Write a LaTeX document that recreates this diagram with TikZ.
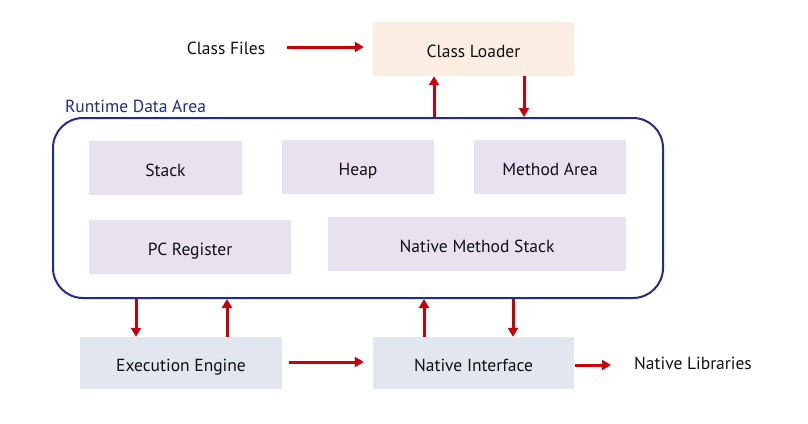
\documentclass[tikz,border=0pt]{standalone}
\usepackage{fontspec}
\setmainfont{PT Sans}
\usepackage{tikz}
\usetikzlibrary{arrows.meta}
\usetikzlibrary{positioning}

\definecolor{jvmred}{HTML}{C8000A}
\definecolor{jvmnavy}{HTML}{222C8A}
\definecolor{lavender}{HTML}{E9E1F0}
\definecolor{peach}{HTML}{FBEDE2}
\definecolor{bluegrey}{HTML}{E1E6EF}
\definecolor{txt}{HTML}{111111}

\tikzset{
	area/.style={fill=lavender, minimum height=54pt},
	flow/.style={draw=jvmred, line width=3pt, -{Triangle[length=9pt,width=10pt]}}
}

\begin{document}
\begin{tikzpicture}[x=1pt, y=-1pt, font=\fontsize{17.5}{20}\selectfont, text=txt]
	\useasboundingbox (0,0) rectangle (808,423);

	\begin{scope}[every node/.style={inner sep=0pt, text height=17.5pt, text depth=0pt}]
		\node[fill=peach, minimum width=201pt, minimum height=54pt] (loader) at (473.5,49) {Class Loader};
		\node (files) at (226,45.5) {Class Files};
		\node[anchor=west, text=jvmnavy] (rdalabel) at (65,103.5) {Runtime Data Area};
		\node[draw=jvmnavy, line width=2pt, rounded corners=30pt,
		      minimum width=610pt, minimum height=180pt] (rda) at (358,208) {};
		\node[area, minimum width=153pt] (stack) at (165.5,168) {Stack};
		\node[area, minimum width=152pt] (heap) at (358,167) {Heap};
		\node[area, minimum width=152pt] (method) at (550,167) {Method Area};
		\node[area, minimum width=202pt] (pc) at (190,247) {PC Register};
		\node[area, minimum width=298pt] (nms) at (477,244) {Native Method Stack};
		\node[fill=bluegrey, minimum width=202pt, minimum height=52pt] (exec) at (181,363) {Execution Engine};
		\node[fill=bluegrey, minimum width=201pt, minimum height=52pt] (native) at (473.5,363) {Native Interface};
		\node (libs) at (693,360.5) {Native Libraries};
	\end{scope}

	\begin{scope}[every edge/.style={flow}]
		\path ([xshift=22pt,yshift=-1.5pt]files.east) edge ([xshift=-9pt,yshift=2pt]loader.west);
		\path ([xshift=-39.5pt]loader.south |- rda.north) edge ([xshift=-39.5pt]loader.south);
		\path ([xshift=50.5pt]loader.south) edge ([xshift=50.5pt]loader.south |- rda.north);
		\path ([xshift=-45pt]exec.north |- rda.south) edge ([xshift=-45pt]exec.north);
		\path ([xshift=46pt]exec.north) edge ([xshift=46pt]exec.north |- rda.south);
		\path ([xshift=-49.5pt]native.north) edge ([xshift=-49.5pt]native.north |- rda.south);
		\path ([xshift=39.5pt]native.north |- rda.south) edge ([xshift=39.5pt]native.north);
		\path ([xshift=7pt,yshift=1pt]exec.east) edge ([xshift=-9pt,yshift=1pt]native.west);
		\path ([xshift=1pt,yshift=-2pt]native.east) edge ([xshift=-23pt,yshift=-4.5pt]libs.west);
	\end{scope}
\end{tikzpicture}
\end{document}
